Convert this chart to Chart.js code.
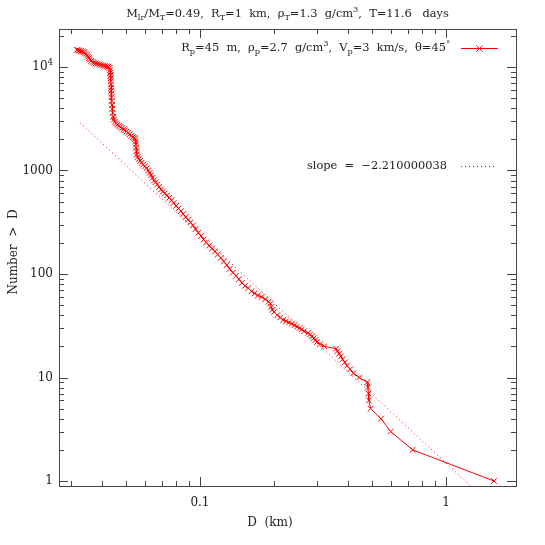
<!DOCTYPE html>
<html>
<head>
<meta charset="utf-8">
<script src="https://cdn.jsdelivr.net/npm/chart.js@4.4.1/dist/chart.umd.min.js"></script>
<style>
  html, body { margin: 0; padding: 0; background: #fff; }
  #wrap { width: 545px; height: 545px; }
</style>
</head>
<body>
<div id="wrap"><canvas id="mycanvas" width="545" height="545"></canvas></div>
<script>
// fragment diameters (km) and cumulative number larger than D
var diameters = [0.0316, 0.0320, 0.0324, 0.0328, 0.0332, 0.0336, 0.0340, 0.0344, 0.0348, 0.0351,
  0.0354, 0.0357, 0.0361, 0.0366, 0.0371, 0.0377, 0.0383, 0.0390, 0.0397, 0.0404,
  0.0411, 0.0418, 0.0424, 0.0429, 0.0431, 0.0432, 0.0433, 0.0434, 0.0434, 0.0435,
  0.0436, 0.0436, 0.0437, 0.0437, 0.0438, 0.0439, 0.0440, 0.0442, 0.0444, 0.0447,
  0.0451, 0.0456, 0.0462, 0.0468, 0.0475, 0.0482, 0.0489, 0.0496, 0.0503, 0.0510,
  0.0518, 0.0526, 0.0534, 0.0541, 0.0546, 0.0548, 0.0549, 0.0550, 0.0552, 0.0554,
  0.0558, 0.0564, 0.0571, 0.0579, 0.0588, 0.0598, 0.0607, 0.0616, 0.0625, 0.0633,
  0.0641, 0.0650, 0.0660, 0.0671, 0.0683, 0.0695, 0.0707, 0.0720, 0.0735, 0.0750,
  0.0766, 0.0782, 0.0800, 0.0818, 0.0836, 0.0855, 0.0875, 0.0895, 0.0915, 0.0937,
  0.0960, 0.0985, 0.1010, 0.1035, 0.1060, 0.1090, 0.1120, 0.1150, 0.1180, 0.1215,
  0.1250, 0.1285, 0.1320, 0.1360, 0.1400, 0.1440, 0.1480, 0.1525, 0.1570, 0.1620,
  0.1670, 0.1720, 0.1780, 0.1840, 0.1900, 0.1930, 0.1950, 0.1970, 0.2000, 0.2060,
  0.2120, 0.2180, 0.2240, 0.2300, 0.2360, 0.2420, 0.2480, 0.2540, 0.2590, 0.2650,
  0.2750, 0.2800, 0.2850, 0.2900, 0.2950, 0.2990, 0.3080, 0.3200, 0.3580, 0.3620,
  0.3680, 0.3740, 0.3800, 0.3880, 0.3960, 0.4080, 0.4200, 0.4440, 0.4780, 0.4820,
  0.4840, 0.4860, 0.4940, 0.5440, 0.5960, 0.7320, 1.5670];
var counts = [14600, 14500, 14400, 14250, 14100, 13900, 13700, 13400, 13000, 12600,
  12200, 11800, 11450, 11200, 11000, 10850, 10700, 10580, 10450, 10350,
  10250, 10150, 10050, 9800, 9300, 8800, 8300, 7800, 7300, 6800,
  6300, 5900, 5500, 5100, 4700, 4300, 3950, 3600, 3300, 3100,
  2950, 2850, 2770, 2700, 2630, 2560, 2500, 2450, 2380, 2310,
  2230, 2160, 2100, 2060, 2010, 1900, 1780, 1660, 1540, 1430,
  1350, 1290, 1240, 1190, 1140, 1100, 1050, 1000, 950, 900,
  850, 800, 770, 735, 695, 655, 625, 600, 575, 545,
  515, 485, 455, 430, 405, 380, 355, 335, 315, 295,
  272, 250, 232, 215, 202, 188, 176, 165, 154, 143,
  132, 122, 112, 103, 96, 89, 82, 77, 73, 68,
  65, 62, 60, 57, 54, 52, 48, 45, 43, 40,
  38, 36, 35, 34, 33, 32, 31, 30, 29, 28,
  27, 26, 25, 24, 23, 22, 21, 20, 19, 18,
  17, 16, 15, 14, 13, 12, 11, 10, 9, 8,
  7, 6, 5, 4, 3, 2, 1];

// power law fit line end points
var slopeD = [0.0325, 1.3];
var slopeN = [2897, 0.836];

var xTicks = [0.1, 1];
var xTickLabels = ["0.1", "1"];
var yTicks = [1, 10, 100, 1000, 10000];
var yTickLabels = [["1"], ["10"], ["100"], ["1000"], ["10", "4"]];

var xRange = [0.02673, 1.926];
var yRange = [0.895, 23280];

var FONT = "DejaVu Serif";
var RED = "#ff0000";
var INK = "#222222";
var TXT = 11.4;

// segments: [text, 0 normal | 1 subscript | 2 superscript]
var titleText = [["M",0],["lr",1],["/M",0],["T",1],["=0.49,  R",0],["T",1],["=1  km,  ",0],["\u03c1",0],["T",1],
  ["=1.3  g/cm",0],["3",2],[",  T=11.6   days",0]];
var legend1 = [["R",0],["p",1],["=45  m,  ",0],["\u03c1",0],["p",1],["=2.7  g/cm",0],["3",2],[",  V",0],["p",1],
  ["=3  km/s,  ",0],["\u03b8",0],["=45",0],["\u00b0",2]];
var legend2 = [["slope  =  \u22122.210000038",0]];

function richWidth(ctx, segs, size) {
  var w = 0;
  segs.forEach(function(s) {
    ctx.font = (s[1] ? size * 0.72 : size) + "px " + FONT;
    w += ctx.measureText(s[0]).width;
  });
  return w;
}

function drawRich(ctx, segs, x, y, size, align) {
  var w = richWidth(ctx, segs, size);
  var cx = align === "right" ? x - w : (align === "center" ? x - w / 2 : x);
  ctx.textBaseline = "middle";
  ctx.textAlign = "left";
  segs.forEach(function(s) {
    var sz = s[1] ? size * 0.72 : size;
    var dy = s[1] === 1 ? size * 0.3 : (s[1] === 2 ? -size * 0.38 : 0);
    ctx.font = sz + "px " + FONT;
    ctx.fillText(s[0], cx, y + dy);
    cx += ctx.measureText(s[0]).width;
  });
}

var framePlugin = {
  id: "frame",
  afterDraw: function(chart) {
    var ctx = chart.ctx, a = chart.chartArea;
    var xs = chart.scales.x, ys = chart.scales.y;
    ctx.save();
    ctx.strokeStyle = "#444";
    ctx.lineWidth = 1;
    ctx.strokeRect(a.left + 0.5, a.top + 0.5, a.right - a.left, a.bottom - a.top);

    ctx.beginPath();
    var d, k, v, p;
    for (d = 0.01; d <= 10; d *= 10) {
      for (k = 1; k <= 9; k++) {
        v = d * k;
        if (v < xRange[0] || v > xRange[1]) continue;
        p = Math.round(xs.getPixelForValue(v)) + 0.5;
        var len = k === 1 ? 9 : 5;
        ctx.moveTo(p, a.bottom); ctx.lineTo(p, a.bottom - len);
        ctx.moveTo(p, a.top); ctx.lineTo(p, a.top + len);
      }
    }
    for (d = 1; d <= 10000; d *= 10) {
      for (k = 1; k <= 9; k++) {
        v = d * k;
        if (v < yRange[0] || v > yRange[1]) continue;
        p = Math.round(ys.getPixelForValue(v)) + 0.5;
        var len2 = k === 1 ? 9 : 5;
        ctx.moveTo(a.left, p); ctx.lineTo(a.left + len2, p);
        ctx.moveTo(a.right, p); ctx.lineTo(a.right - len2, p);
      }
    }
    ctx.stroke();

    ctx.fillStyle = INK;
    xTicks.forEach(function(t, i) {
      drawRich(ctx, [[xTickLabels[i], 0]], xs.getPixelForValue(t), a.bottom + 17, 12, "center");
    });
    yTicks.forEach(function(t, i) {
      var lab = yTickLabels[i];
      var segs = lab.length > 1 ? [[lab[0], 0], [lab[1], 2]] : [[lab[0], 0]];
      drawRich(ctx, segs, a.left - 6, ys.getPixelForValue(t), 12, "right");
    });

    // titles
    drawRich(ctx, titleText, (a.left + a.right) / 2, 14, TXT, "center");
    drawRich(ctx, [["D  (km)", 0]], 270, a.bottom + 37, 12, "center");
    ctx.save();
    ctx.translate(14, 252);
    ctx.rotate(-Math.PI / 2);
    drawRich(ctx, [["Number  >  D", 0]], 0, 0, 12, "center");
    ctx.restore();

    // key
    drawRich(ctx, legend1, 450, 48, TXT, "right");
    drawRich(ctx, legend2, 447, 166, TXT, "right");
    ctx.strokeStyle = RED;
    ctx.beginPath();
    ctx.moveTo(461, 48.5); ctx.lineTo(498, 48.5);
    ctx.moveTo(476.5, 45.5); ctx.lineTo(482.5, 51.5);
    ctx.moveTo(482.5, 45.5); ctx.lineTo(476.5, 51.5);
    ctx.stroke();
    ctx.setLineDash([1, 3]);
    ctx.beginPath();
    ctx.moveTo(461, 166.5); ctx.lineTo(497, 166.5);
    ctx.stroke();
    ctx.restore();
  }
};

var points = diameters.map(function(dv, i) { return { x: dv, y: counts[i] }; });
var fitLine = slopeD.map(function(dv, i) { return { x: dv, y: slopeN[i] }; });

var ctx = document.getElementById("mycanvas");
var chart = new Chart(ctx, {
  type: "line",
  data: {
    datasets: [
      {
        label: "fragments",
        data: points,
        borderColor: RED,
        backgroundColor: RED,
        borderWidth: 1,
        pointStyle: "crossRot",
        pointRadius: 4,
        pointBorderWidth: 1,
        pointBorderColor: RED,
        tension: 0,
        fill: false
      },
      {
        label: "slope",
        data: fitLine,
        borderColor: RED,
        borderWidth: 1,
        borderDash: [1, 3],
        pointRadius: 0,
        tension: 0,
        fill: false
      }
    ]
  },
  options: {
    responsive: false,
    animation: false,
    layout: { padding: { left: 59, right: 29, top: 29, bottom: 59 } },
    plugins: { legend: { display: false }, title: { display: false }, tooltip: { enabled: false } },
    scales: {
      x: { type: "logarithmic", min: xRange[0], max: xRange[1], display: false },
      y: { type: "logarithmic", min: yRange[0], max: yRange[1], display: false }
    }
  },
  plugins: [framePlugin]
});
</script>
</body>
</html>
